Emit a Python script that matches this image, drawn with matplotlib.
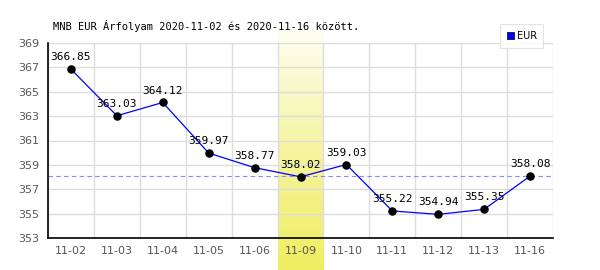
import numpy as np
import matplotlib
matplotlib.use("Agg")
import matplotlib.pyplot as plt
from matplotlib.colors import LinearSegmentedColormap
from matplotlib.transforms import blended_transform_factory

dates = ["11-02", "11-03", "11-04", "11-05", "11-06", "11-09",
         "11-10", "11-11", "11-12", "11-13", "11-16"]
rates = [366.85, 363.03, 364.12, 359.97, 358.77, 358.02,
         359.03, 355.22, 354.94, 355.35, 358.08]
highlight = "11-09"
yticks = [353, 355, 357, 359, 361, 363, 365, 367, 369]

fig = plt.figure(figsize=(6, 2.7), dpi=100)
ax = fig.add_axes([48 / 600, 32 / 270, 505 / 600, 195 / 270])

x = np.arange(len(dates))
ax.set_xlim(-0.5, len(dates) - 0.5)
ax.set_ylim(353, 369)

# highlighted day, yellow gradient running past the axes
hi = dates.index(highlight)
cmap = LinearSegmentedColormap.from_list("hl", ["#fefef2", "#f6f4a0", "#f0ee60"])
grad = np.linspace(0, 1, 100).reshape(-1, 1)
trans = blended_transform_factory(ax.transData, fig.transFigure)
ax.imshow(grad, cmap=cmap, aspect="auto", extent=(hi - 0.5, hi + 0.5, 0, 1 - 30 / 270),
          transform=trans, clip_on=False, zorder=0, origin="upper")

# grid
for v in yticks:
    ax.axhline(v, color="#dddddd", lw=1, zorder=1)
for b in np.arange(len(dates) + 1) - 0.5:
    ax.axvline(b, color="#dddddd", lw=1, zorder=1)

ax.axhline(rates[-1], color="#8888ff", lw=0.8, ls=(0, (4, 3)), zorder=2)
ax.plot(x, rates, color="#0000ff", lw=0.9, zorder=3)
ax.scatter(x, rates, s=26, color="black", zorder=4)

for xi, r in zip(x, rates):
    ax.annotate(f"{r:.2f}", (xi, r), xytext=(0, 5), textcoords="offset points",
                ha="center", va="bottom", fontsize=8, family="DejaVu Sans Mono",
                zorder=5)

ax.set_xticks(x)
ax.set_xticklabels(dates)
ax.set_yticks(yticks)
ax.tick_params(length=0, labelsize=8, colors="#555555", pad=6)
for s in ["top", "right"]:
    ax.spines[s].set_visible(False)
for s in ["left", "bottom"]:
    ax.spines[s].set_color("black")
    ax.spines[s].set_linewidth(1.2)
ax.set_zorder(1)
ax.patch.set_visible(False)

fig.text(53 / 600, 1 - 26 / 270, "MNB EUR Árfolyam 2020-11-02 és 2020-11-16 között.",
         fontsize=7.5, family="DejaVu Sans Mono", va="center", ha="left")

leg = ax.legend([plt.Rectangle((0, 0), 1, 1, fc="#0000ff", ec="black", lw=0.5)], ["EUR"],
                loc="upper left", bbox_to_anchor=(500 / 600, 1 - 24 / 270),
                bbox_transform=fig.transFigure, fontsize=7, frameon=True,
                fancybox=False, edgecolor="#dddddd", handlelength=0.7, handleheight=0.7,
                handletextpad=0.3, borderpad=0.7, borderaxespad=0)
leg.get_frame().set_linewidth(0.8)

fig.savefig("out.png", dpi=100, facecolor="white")
